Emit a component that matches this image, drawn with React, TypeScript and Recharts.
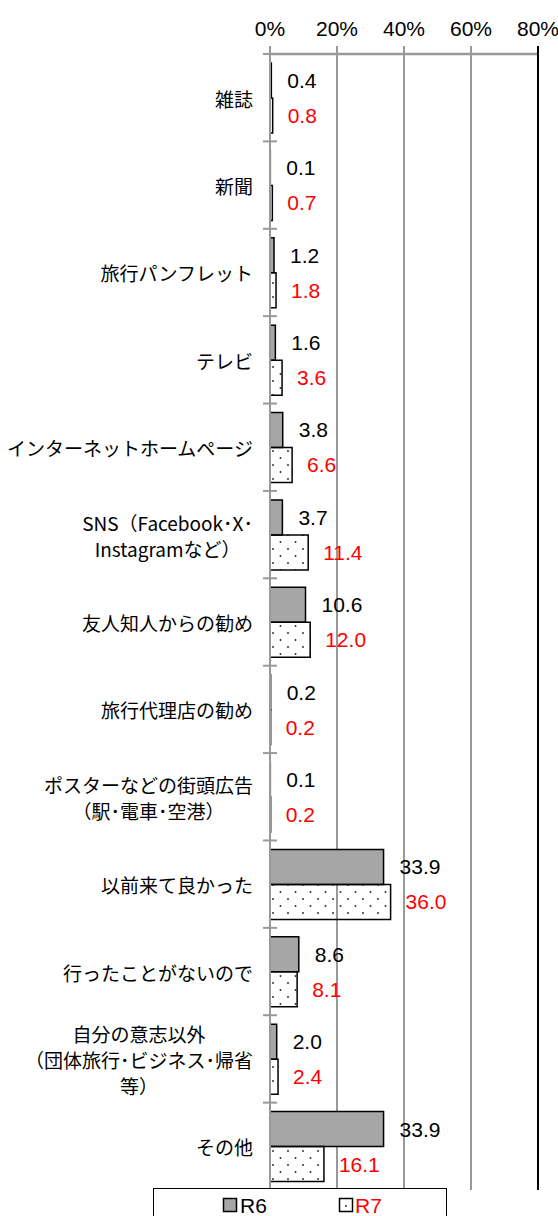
import { Bar, BarChart, CartesianGrid, LabelList, Legend, ReferenceLine, XAxis, YAxis } from "recharts";

const categories = [
  "雑誌",
  "新聞",
  "旅行パンフレット",
  "テレビ",
  "インターネットホームページ",
  "SNS（Facebook･X･\nInstagramなど）",
  "友人知人からの勧め",
  "旅行代理店の勧め",
  "ポスターなどの街頭広告\n（駅･電車･空港）",
  "以前来て良かった",
  "行ったことがないので",
  "自分の意志以外\n（団体旅行･ビジネス･帰省\n等）",
  "その他"
];
const r6Values = [0.4, 0.1, 1.2, 1.6, 3.8, 3.7, 10.6, 0.2, 0.1, 33.9, 8.6, 2.0, 33.9];
const r7Values = [0.8, 0.7, 1.8, 3.6, 6.6, 11.4, 12.0, 0.2, 0.2, 36.0, 8.1, 2.4, 16.1];
const xTicks = [0, 20, 40, 60, 80];
const seriesNames = ["R6", "R7"];

const chartData = categories.map((name, i) => ({ name, r6: r6Values[i], r7: r7Values[i] }));

if (typeof document !== "undefined") document.body.style.margin = "0";

const W = 558;
const H = 1216;
const PLOT_TOP = 54;
const PLOT_BOTTOM = 1190;
const BAND = (PLOT_BOTTOM - PLOT_TOP) / categories.length;
const LABEL_SIZE = 19;
const LABEL_FONT = `${LABEL_SIZE}px 'Noto Sans CJK JP'`;
const NUM_FONT = "'Liberation Sans', Arial, sans-serif";

let measureCtx: CanvasRenderingContext2D | null = null;
function textWidth(s: string) {
  if (!measureCtx) measureCtx = document.createElement("canvas").getContext("2d");
  if (!measureCtx) return s.length * LABEL_SIZE;
  measureCtx.font = LABEL_FONT;
  return measureCtx.measureText(s).width;
}

function CategoryTick(props: any) {
  const { x, y, payload, index } = props;
  const lines = String(payload.value).split("\n");
  const right = x - 17;
  const lh = 26;
  const start = y - ((lines.length - 1) * lh) / 2;
  let anchor: "end" | "middle" = "end";
  let tx = right;
  if (lines.length > 1) {
    const maxW = Math.max(...lines.map(textWidth));
    anchor = "middle";
    tx = right - maxW / 2;
  }
  return (
    <g>
      <line x1={x - 7} x2={x + 7} y1={y + BAND / 2} y2={y + BAND / 2} stroke="#999" strokeWidth={2} />
      {index === 0 && <line x1={x - 7} x2={x + 7} y1={y - BAND / 2} y2={y - BAND / 2} stroke="#999" strokeWidth={2} />}
      <text
        x={tx}
        y={start}
        textAnchor={anchor}
        dominantBaseline="central"
        fontFamily="'Noto Sans CJK JP'"
        fontSize={LABEL_SIZE}
        fill="#000"
      >
        {lines.map((l, i) => (
          <tspan key={i} x={tx} dy={i === 0 ? 0 : lh}>
            {l}
          </tspan>
        ))}
      </text>
    </g>
  );
}

function ValueTick(props: any) {
  const { x, y, payload } = props;
  const last = payload.value === 80;
  return (
    <g>
      <line x1={x} x2={x} y1={y - 8} y2={y + 6} stroke={last ? "#000" : "#999"} strokeWidth={2} />
      <text x={x} y={y - 26} textAnchor="middle" dominantBaseline="central" fontFamily={NUM_FONT} fontSize={21} fill="#000">
        {`${payload.value}%`}
      </text>
    </g>
  );
}

function LegendBox() {
  return (
    <div
      style={{
        width: 294,
        height: 40,
        border: "1px solid #000",
        boxSizing: "border-box",
        background: "#fff"
      }}
    >
      <svg width={292} height={38} style={{ display: "block" }}>
        <rect x={69.5} y={9.5} width={13} height={13} fill="#a6a6a6" stroke="#000" strokeWidth={1.5} />
        <text x={86} y={16} dominantBaseline="central" fontFamily={NUM_FONT} fontSize={21} fill="#000">
          {seriesNames[0]}
        </text>
        <rect x={185.5} y={9.5} width={13} height={13} fill="#fff" stroke="#000" strokeWidth={1.5} />
        <circle cx={192} cy={17} r={1} fill="#333" />
        <text x={201} y={16} dominantBaseline="central" fontFamily={NUM_FONT} fontSize={21} fill="#ff0000">
          {seriesNames[1]}
        </text>
      </svg>
    </div>
  );
}

export default function App() {
  return (
    <div style={{ position: "relative", width: W, height: H, overflow: "hidden", background: "#fff" }}>
      <BarChart
        width={W}
        height={H}
        data={chartData}
        layout="vertical"
        margin={{ top: 0, right: 20, left: 0, bottom: H - PLOT_BOTTOM }}
        barGap={0}
      >
        <defs>
          <pattern id="dots" patternUnits="userSpaceOnUse" width={15} height={14}>
            <circle cx={3} cy={3} r={1} fill="#333" />
            <circle cx={10.5} cy={10} r={1} fill="#333" />
          </pattern>
        </defs>
        <CartesianGrid horizontal={false} stroke="#999" strokeWidth={2} />
        <XAxis
          type="number"
          orientation="top"
          domain={[0, 80]}
          ticks={xTicks}
          height={PLOT_TOP}
          tickSize={0}
          tickMargin={0}
          tick={<ValueTick />}
          axisLine={{ stroke: "#999", strokeWidth: 2.5 }}
          tickLine={false}
        />
        <XAxis xAxisId="bottom" type="number" orientation="bottom" domain={[0, 80]} height={0} tick={false} tickLine={false} axisLine={{ stroke: "#000", strokeWidth: 2 }} />
        <YAxis
          type="category"
          dataKey="name"
          width={270}
          tickSize={0}
          tickMargin={0}
          tick={<CategoryTick />}
          axisLine={{ stroke: "#999", strokeWidth: 2 }}
          tickLine={false}
          interval={0}
        />
        <ReferenceLine x={80} stroke="#000" strokeWidth={2} />
        <Bar dataKey="r6" name={seriesNames[0]} barSize={35} fill="#a6a6a6" stroke="#000" strokeWidth={1.5} isAnimationActive={false}>
          <LabelList
            dataKey="r6"
            position="right"
            offset={16}
            formatter={(v: any) => Number(v).toFixed(1)}
            fill="#000"
            fontSize={21}
            fontFamily={NUM_FONT}
          />
        </Bar>
        <Bar dataKey="r7" name={seriesNames[1]} barSize={35} fill="url(#dots)" stroke="#000" strokeWidth={1.5} isAnimationActive={false}>
          <LabelList
            dataKey="r7"
            position="right"
            offset={15}
            formatter={(v: any) => Number(v).toFixed(1)}
            fill="#ff0000"
            fontSize={21}
            fontFamily={NUM_FONT}
          />
        </Bar>
        <Legend
          verticalAlign="middle"
          align="center"
          layout="horizontal"
          content={<LegendBox />}
          wrapperStyle={{ position: "absolute", left: 153, top: 1188, width: 294, height: 40, bottom: "auto", right: "auto" }}
        />
      </BarChart>
    </div>
  );
}
